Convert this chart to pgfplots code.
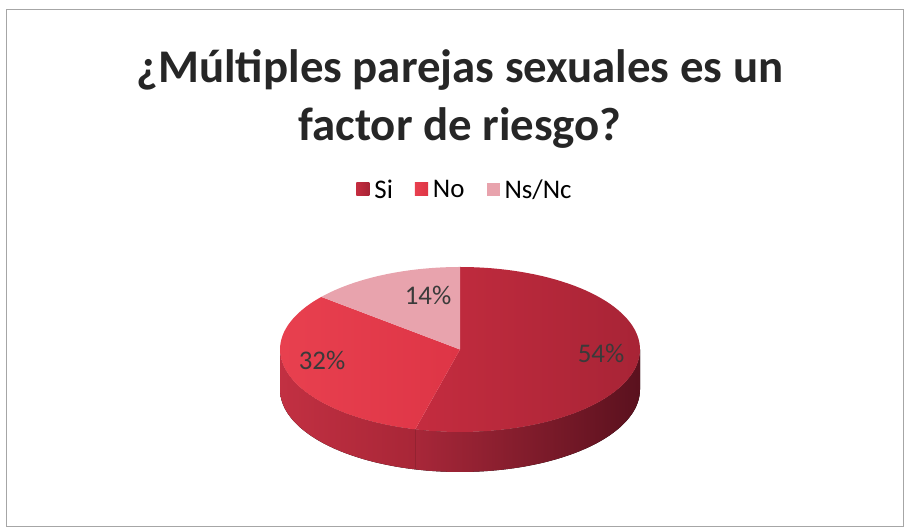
\documentclass[border=0pt]{standalone}
\usepackage{fontspec}
\setmainfont{Carlito}
\usepackage{pgfplots}
\pgfplotsset{compat=1.18}
\usepgfplotslibrary{fillbetween}
\definecolor{siTopL}{HTML}{C42C3F}
\definecolor{siTopR}{HTML}{A82436}
\definecolor{siSideL}{HTML}{A82739}
\definecolor{siSideR}{HTML}{5A111E}
\definecolor{noTopL}{HTML}{E8404F}
\definecolor{noTopR}{HTML}{DE3546}
\definecolor{noSideL}{HTML}{C23042}
\definecolor{noSideR}{HTML}{A82637}
\definecolor{nsTop}{HTML}{E8A3AD}
\definecolor{lbl}{HTML}{3A3A3A}
% data (percent)
\def\vSi{54}\def\vNo{32}\def\vNs{14}
\pgfmathsetmacro{\aA}{90}
\pgfmathsetmacro{\aB}{90-3.6*\vSi}
\pgfmathsetmacro{\aC}{\aB-3.6*\vNo}
\pgfmathsetmacro{\aD}{\aC-3.6*\vNs}
\def\cx{460}\def\cy{180.5}\def\rx{180}\def\ry{82.5}\def\dep{40}
\pgfplotsset{legend image code/.code={\path[#1] (0bp,-6bp) rectangle (13bp,7bp);}}
\begin{document}
\begin{tikzpicture}
\begin{axis}[
  scale only axis, width=904bp, height=530bp,
  xmin=0, xmax=904, ymin=0, ymax=530,
  hide axis, clip=false,
  legend columns=-1,
  legend style={at={(axis cs:465,340)}, anchor=center, draw=none, fill=none,
    font=\fontsize{27}{30}\selectfont,
    /tikz/every even column/.append style={column sep=20bp},
    /tikz/every odd column/.append style={column sep=3bp}},
]
\path (axis cs:0,0) rectangle (axis cs:904,530);
\draw[gray!70, line width=1bp] (axis cs:6,3) rectangle (axis cs:903,520);
% sides
\addplot[name path=siT, draw=none, domain=\aB:0, samples=60, forget plot] ({\cx+\rx*cos(x)},{\cy+\ry*sin(x)});
\addplot[name path=siB, draw=none, domain=\aB:0, samples=60, forget plot] ({\cx+\rx*cos(x)},{\cy-\dep+\ry*sin(x)});
\addplot[left color=siSideL, right color=siSideR, draw=none, forget plot] fill between[of=siT and siB];
\addplot[name path=noT, draw=none, domain=-180:\aB, samples=60, forget plot] ({\cx+\rx*cos(x)},{\cy+\ry*sin(x)});
\addplot[name path=noB, draw=none, domain=-180:\aB, samples=60, forget plot] ({\cx+\rx*cos(x)},{\cy-\dep+\ry*sin(x)});
\addplot[left color=noSideL, right color=noSideR, draw=none, forget plot] fill between[of=noT and noB];
% top faces
\addplot[left color=siTopL, right color=siTopR, draw=none, domain=\aB:\aA, samples=80] ({\cx+\rx*cos(x)},{\cy+\ry*sin(x)}) -- (\cx,\cy) -- cycle;
\addlegendentry{Si}
\addplot[left color=noTopL, right color=noTopR, draw=none, domain=\aC:\aB, samples=60] ({\cx+\rx*cos(x)},{\cy+\ry*sin(x)}) -- (\cx,\cy) -- cycle;
\addlegendentry{No}
\addplot[fill=nsTop, draw=none, domain=\aD:\aC, samples=40] ({\cx+\rx*cos(x)},{\cy+\ry*sin(x)}) -- (\cx,\cy) -- cycle;
\addlegendentry{Ns/Nc}
% labels
\node[text=lbl, font=\fontsize{27}{30}\selectfont] at (axis cs:601,177) {54\%};
\node[text=lbl, font=\fontsize{27}{30}\selectfont] at (axis cs:322,170) {32\%};
\node[text=lbl, font=\fontsize{27}{30}\selectfont] at (axis cs:428,235) {14\%};
% title
\node[align=center, font=\bfseries\fontsize{47}{58}\selectfont, text=black!85] at (axis cs:460,431) {¿Múltiples parejas sexuales es un\\factor de riesgo?};
\end{axis}
\end{tikzpicture}
\end{document}
